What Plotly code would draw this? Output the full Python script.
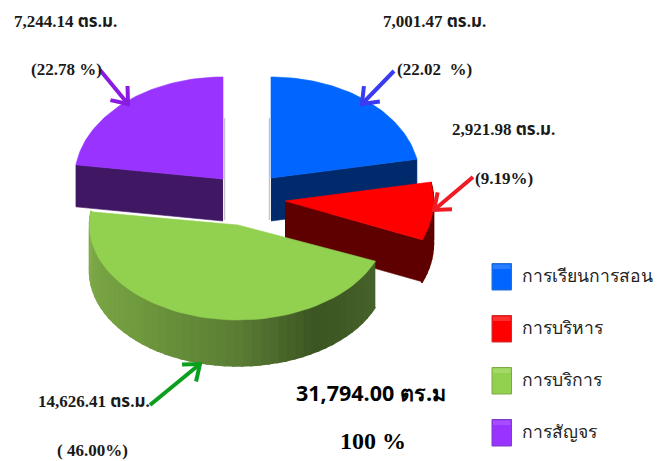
import math
import plotly.graph_objects as go

categories = ["การเรียนการสอน", "การบริหาร", "การบริการ", "การสัญจร"]
areas = [7001.47, 2921.98, 14626.41, 7244.14]
percent_labels = ["(22.02  %)", "(9.19%)", "( 46.00%)", "(22.78 %)"]
total_label = "31,794.00 ตร.ม"
total_percent = "100 %"
unit = "ตร.ม."

top_colors = ["#0066ff", "#ff0000", "#92d050", "#9933ff"]
side_colors = ["#002a6b", "#5e0000", "#46632a", "#3f1763"]
arrow_colors = ["#3a3af0", "#ee1c24", "#0aa01e", "#8b1be0"]
swatch_highlight = ["#2a7dff", "#ff3030", "#a4d96a", "#a64dff"]

# slice geometry in page pixels: centre x, centre y, radius x, radius y, depth
geom = [(271, 178, 148.5, 101, 43), (285, 201, 148.5, 102, 42),
        (238, 225, 148.5, 95, 46), (223, 179, 148.5, 102, 42)]

total = sum(areas)
bounds = [0.0]
for a in areas:
    bounds.append(bounds[-1] + a / total * 360)

fig = go.Figure()


def poly(xs, ys, color, w=0.6):
    fig.add_trace(go.Scatter(x=xs, y=ys, mode="lines", fill="toself", fillcolor=color,
                             line=dict(color=color, width=w), hoverinfo="skip", showlegend=False))


def pt(g, deg, drop=0):
    r = math.radians(deg)
    return g[0] + g[2] * math.sin(r), g[1] - g[3] * math.cos(r) + drop


def arc(g, a, b, drop=0, n=60):
    pts = [pt(g, a + (b - a) * i / n, drop) for i in range(n + 1)]
    return [p[0] for p in pts], [p[1] for p in pts]


def lerp_color(stops, deg):
    for (a0, c0), (a1, c1) in zip(stops, stops[1:]):
        if a0 <= deg <= a1:
            t = (deg - a0) / (a1 - a0)
            return "rgb(%d,%d,%d)" % tuple(round(c0[i] + (c1[i] - c0[i]) * t) for i in range(3))
    return "rgb(%d,%d,%d)" % stops[-1][1]


green_rim = [(112, (70, 99, 42)), (150, (60, 85, 34)), (180, (90, 125, 52)),
             (225, (112, 155, 62)), (280, (132, 175, 76))]

for idx in range(4):
    g = geom[idx]
    a, b = bounds[idx], bounds[idx + 1]
    d = g[4]
    # outer rim (only the part facing the viewer)
    ra, rb = max(a, 90 - 12), min(b, 270 + 10)
    if rb > ra and idx in (1, 2):
        steps = 48 if idx == 2 else 12
        for s in range(steps):
            s0 = ra + (rb - ra) * s / steps
            s1 = ra + (rb - ra) * (s + 1) / steps + 0.6
            tx, ty = arc(g, s0, s1, 0, 3)
            bx, by = arc(g, s1, s0, d, 3)
            col = lerp_color(green_rim, (s0 + s1) / 2) if idx == 2 else side_colors[idx]
            poly(tx + bx, ty + by, col, w=1.5)
    # cut faces
    if idx in (0, 1):
        e = pt(g, b)
        poly([g[0], e[0], e[0], g[0]], [g[1], e[1], e[1] + d, g[1] + d], side_colors[idx])
    if idx == 3:
        e = pt(g, a)
        poly([g[0], e[0], e[0], g[0]], [g[1], e[1], e[1] + d, g[1] + d], side_colors[idx])
    # top face
    ax, ay = arc(g, a, b)
    poly([g[0]] + ax + [g[0]], [g[1]] + ay + [g[1]], top_colors[idx])

# thin grey back-cut edges beside the gap
fig.add_trace(go.Scatter(x=[224.5, 224.5], y=[118, 220], mode="lines", hoverinfo="skip", showlegend=False,
                         line=dict(color="#c4c4cc", width=1.5)))
fig.add_trace(go.Scatter(x=[269.5, 269.5], y=[118, 220], mode="lines", hoverinfo="skip", showlegend=False,
                         line=dict(color="#c4c4cc", width=1.5)))

# leader arrows: tail, tip per slice
leaders = [((394, 71), (362, 104)), ((473, 177), (434, 210)),
           ((150, 405), (200, 364)), ((100, 70), (128, 104))]
for (tail, tip), col in zip(leaders, arrow_colors):
    ang = math.atan2(tail[1] - tip[1], tail[0] - tip[0])
    hl, spread = 18, math.radians(38)
    h1 = (tip[0] + hl * math.cos(ang + spread), tip[1] + hl * math.sin(ang + spread))
    h2 = (tip[0] + hl * math.cos(ang - spread), tip[1] + hl * math.sin(ang - spread))
    fig.add_trace(go.Scatter(x=[tail[0], tip[0], None, h1[0], tip[0], h2[0]],
                             y=[tail[1], tip[1], None, h1[1], tip[1], h2[1]],
                             mode="lines", hoverinfo="skip", showlegend=False,
                             line=dict(color=col, width=4)))

SERIF = "Liberation Serif, Noto Sans Thai, Noto Sans, serif"


def label(x, y, text, size=17, family=SERIF, bold=True, color="#1a1a1a", anchor="left"):
    fig.add_annotation(x=x, y=y, text=f"<b>{text}</b>" if bold else text, showarrow=False,
                       xanchor=anchor, yanchor="middle",
                       font=dict(family=family, size=size, color=color))


area_text = [f"{v:,.2f} {unit}" for v in areas]
label(381, 21, area_text[0])
label(395, 69, percent_labels[0])
label(450, 129, area_text[1])
label(473, 178, percent_labels[1])
label(36, 401, area_text[2])
label(55, 450, percent_labels[2])
label(12, 21, area_text[3])
label(29, 69, percent_labels[3])
label(294, 392, total_label, size=21.5, family="Open Sans, Noto Sans, sans-serif", color="#000000")
label(338, 441, total_percent, size=24, color="#000000")

# legend
legend_y = [277, 329, 381, 433]
legend_border = ["#2a6fc9", "#c83030", "#7ea846", "#7b3fc0"]
for name, col, hi, edge, y in zip(categories, top_colors, swatch_highlight, legend_border, legend_y):
    fig.add_shape(type="rect", x0=492, x1=511.5, y0=y - 13.5, y1=y + 13,
                  fillcolor=col, line=dict(color=edge, width=1))
    fig.add_shape(type="rect", x0=493, x1=510.5, y0=y - 12.5, y1=y - 8,
                  fillcolor=hi, line=dict(width=0))
    label(520, y - 2, name, size=17.5, family="Noto Sans, DejaVu Sans, sans-serif", bold=False, color="#222222")

fig.update_layout(width=657, height=461, margin=dict(l=0, r=0, t=0, b=0),
                  paper_bgcolor="white", plot_bgcolor="white", showlegend=False,
                  xaxis=dict(range=[0, 657], visible=False, fixedrange=True),
                  yaxis=dict(range=[461, 0], visible=False, fixedrange=True))
fig.write_html("out.html", config={"displayModeBar": False},
               post_script="document.body.style.margin='0';document.documentElement.style.overflow='hidden';")
